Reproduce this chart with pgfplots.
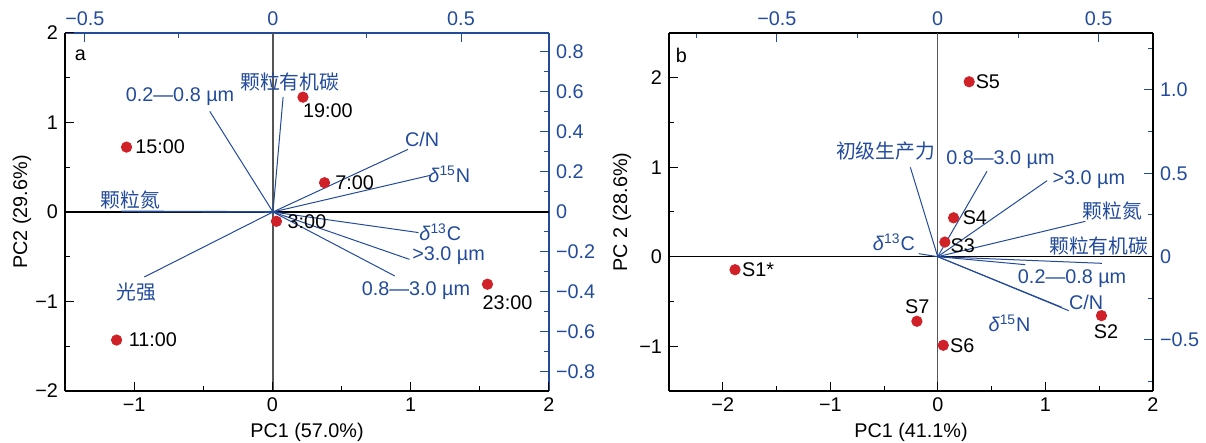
\documentclass[border=0pt]{standalone}
\usepackage{pgfplots}
\pgfplotsset{compat=1.18}
\usepackage{fontspec}
\setmainfont{Liberation Sans}
\newfontfamily\cjk{Noto Sans CJK SC}
\definecolor{ldblue}{RGB}{35,75,155}
\definecolor{ptred}{RGB}{208,32,40}
\definecolor{zgray}{RGB}{85,85,85}
\newcommand{\fs}{\fontsize{9.9}{11.5}\selectfont}
\tikzset{
  lab/.style={font=\fs, text=ldblue, inner sep=0pt, anchor=center},
  plab/.style={font=\fs, text=black, inner sep=0pt, anchor=center},
}
\pgfplotsset{
  base/.style={width=242pt,height=179pt,scale only axis,
    tick align=inside, major tick length=4.5pt, minor tick length=2.5pt,
    axis line style={line width=0.65pt},
    tick label style={font=\fs}, label style={font=\fs},
    clip=false},
  vec/.style={ldblue, line width=0.5pt, no marks},
  pts/.style={only marks, mark=*, mark size=2.6pt, mark options={draw=ptred, fill=ptred}},
}
\begin{document}
\begin{tikzpicture}
\useasboundingbox (-32.5pt,-26pt) rectangle (570.5pt,195.5pt);
% ===== Panel a: loadings axis (top/right)
\begin{axis}[base, at={(0,0)}, anchor=south west,
  xmin=-0.553, xmax=0.734, ymin=-0.895, ymax=0.895,
  axis x line*=top, axis y line*=right,
  axis line style={ldblue, line width=0.65pt},
  tick style={ldblue, line width=0.5pt},
  tick label style={text=ldblue},
  xtick={-0.5,0,0.5}, xticklabels={−0.5,0,0.5}, minor xtick={-0.25,0.25},
  ytick={-0.8,-0.6,-0.4,-0.2,0,0.2,0.4,0.6,0.8},
  yticklabels={−0.8,−0.6,−0.4,−0.2,0,0.2,0.4,0.6,0.8},
  minor ytick={-0.7,-0.5,-0.3,-0.1,0.1,0.3,0.5,0.7}]
\addplot[black, line width=0.65pt, no marks] coordinates {(-0.553,0) (0.734,0)};
\addplot[zgray, line width=0.65pt, no marks] coordinates {(0,-0.895) (0,0.895)};
\addplot[vec] coordinates {(0,0) (-0.168,0.503)};
\addplot[vec] coordinates {(0,0) (0.027,0.575)};
\addplot[vec] coordinates {(0,0) (0.359,0.313)};
\addplot[vec] coordinates {(0,0) (0.418,0.183)};
\addplot[vec, line width=0.8pt] coordinates {(0,0) (-0.403,0.003)};
\addplot[vec] coordinates {(0,0) (-0.342,-0.325)};
\addplot[vec] coordinates {(0,0) (0.387,-0.103)};
\addplot[vec] coordinates {(0,0) (0.363,-0.237)};
\addplot[vec] coordinates {(0,0) (0.324,-0.320)};
\end{axis}
% ===== Panel a: scores axis (bottom/left)
\begin{axis}[base, at={(0,0)}, anchor=south west,
  xmin=-1.5, xmax=2, ymin=-2, ymax=2,
  axis x line*=bottom, axis y line*=left,
  tick style={black, line width=0.5pt},
  xtick={-1,0,1,2}, xticklabels={−1,0,1,2}, minor xtick={-0.5,0.5,1.5},
  ytick={-2,-1,0,1,2}, yticklabels={−2,−1,0,1,2}, minor ytick={-1.5,-0.5,0.5,1.5},
  xlabel={PC1 (57.0\%)}, ylabel={PC2 (29.6\%)},
  xlabel style={at={(axis description cs:0.5,-0.1145)}, anchor=center},
  ylabel style={at={(axis description cs:-0.0888,0.5)}, anchor=center}]
\addplot[pts] coordinates {(-1.055,0.725) (0.221,1.283) (0.377,0.327) (0.029,-0.104) (1.555,-0.807) (-1.127,-1.431)};
\node[plab] at (axis cs:-0.8125,0.725) {15:00};
\node[plab] at (axis cs:0.401,1.134) {19:00};
\node[plab] at (axis cs:0.594,0.327) {7:00};
\node[plab] at (axis cs:0.250,-0.104) {3:00};
\node[plab] at (axis cs:1.700,-1.011) {23:00};
\node[plab] at (axis cs:-0.865,-1.424) {11:00};
\node[plab] at (axis cs:-1.389,1.747) {a};
\node[lab] at (axis cs:-0.668,1.29) {0.2—0.8 µm};
\node[lab] at (axis cs:0.125,1.457) {\cjk 颗粒有机碳};
\node[lab] at (axis cs:1.082,0.810) {C/N};
\node[lab] at (axis cs:1.279,0.420) {\textit{δ}\textsuperscript{15}N};
\node[lab] at (axis cs:-1.029,0.130) {\cjk 颗粒氮};
\node[lab] at (axis cs:-0.981,-0.900) {\cjk 光强};
\node[lab] at (axis cs:1.214,-0.230) {\textit{δ}\textsuperscript{13}C};
\node[lab] at (axis cs:1.274,-0.491) {>3.0 µm};
\node[lab] at (axis cs:1.038,-0.874) {0.8—3.0 µm};
\end{axis}
% ===== Panel b: loadings axis
\begin{axis}[base, at={(302pt,0)}, anchor=south west,
  xmin=-0.835, xmax=0.669, ymin=-0.806, ymax=1.342,
  axis x line*=top, axis y line*=right,
  axis line style={black, line width=0.65pt},
  tick style={ldblue, line width=0.5pt},
  tick label style={text=ldblue},
  xtick={-0.5,0,0.5}, xticklabels={−0.5,0,0.5}, minor xtick={-0.75,-0.25,0.25},
  ytick={-0.5,0,0.5,1}, yticklabels={−0.5,0,0.5,1.0},
  minor ytick={-0.75,-0.25,0.25,0.75,1.25}]
\addplot[black, line width=0.65pt, no marks] coordinates {(-0.835,0) (0.669,0)};
\addplot[zgray, line width=0.65pt, no marks] coordinates {(0,-0.806) (0,1.342)};
\addplot[vec] coordinates {(0,0) (-0.085,0.536)};
\addplot[vec] coordinates {(0,0) (0.153,0.512)};
\addplot[vec] coordinates {(0,0) (0.340,0.456)};
\addplot[vec] coordinates {(0,0) (0.459,0.212)};
\addplot[vec] coordinates {(0,0) (0.510,-0.040)};
\addplot[vec] coordinates {(0,0) (0.272,-0.048)};
\addplot[vec] coordinates {(0,0) (0.407,-0.324)};
\addplot[vec] coordinates {(0,0) (0.386,-0.304)};
\addplot[vec] coordinates {(0,0) (-0.059,0.018)};
\end{axis}
% ===== Panel b: scores axis
\begin{axis}[base, at={(302pt,0)}, anchor=south west,
  xmin=-2.5, xmax=2, ymin=-1.5, ymax=2.5,
  axis x line*=bottom, axis y line*=left,
  tick style={black, line width=0.5pt},
  xtick={-2,-1,0,1,2}, xticklabels={−2,−1,0,1,2}, minor xtick={-1.5,-0.5,0.5,1.5},
  ytick={-1,0,1,2}, yticklabels={−1,0,1,2}, minor ytick={-0.5,0.5,1.5},
  xlabel={PC1 (41.1\%)}, ylabel={PC 2 (28.6\%)},
  xlabel style={at={(axis description cs:0.5,-0.1145)}, anchor=center},
  ylabel style={at={(axis description cs:-0.097,0.5)}, anchor=center}]
\addplot[pts] coordinates {(0.291,1.955) (0.146,0.435) (0.065,0.164) (-1.886,-0.145) (-0.195,-0.721) (0.050,-0.989) (1.521,-0.658)};
\node[plab] at (axis cs:0.465,1.955) {S5};
\node[plab] at (axis cs:0.344,0.431) {S4};
\node[plab] at (axis cs:0.232,0.126) {S3};
\node[plab] at (axis cs:-1.672,-0.145) {S1*};
\node[plab] at (axis cs:-0.192,-0.554) {S7};
\node[plab] at (axis cs:0.226,-0.989) {S6};
\node[plab] at (axis cs:1.564,-0.840) {S2};
\node[plab] at (axis cs:-2.385,2.253) {b};
\node[lab] at (axis cs:-0.486,1.182) {\cjk 初级生产力};
\node[lab] at (axis cs:0.582,1.082) {0.8—3.0 µm};
\node[lab] at (axis cs:1.403,0.859) {>3.0 µm};
\node[lab] at (axis cs:1.620,0.513) {\cjk 颗粒氮};
\node[lab] at (axis cs:1.496,0.115) {\cjk 颗粒有机碳};
\node[lab] at (axis cs:1.248,-0.245) {0.2—0.8 µm};
\node[lab] at (axis cs:1.378,-0.506) {C/N};
\node[lab] at (axis cs:0.666,-0.740) {\textit{δ}\textsuperscript{15}N};
\node[lab] at (axis cs:-0.409,0.164) {\textit{δ}\textsuperscript{13}C};
\end{axis}
\end{tikzpicture}
\end{document}
